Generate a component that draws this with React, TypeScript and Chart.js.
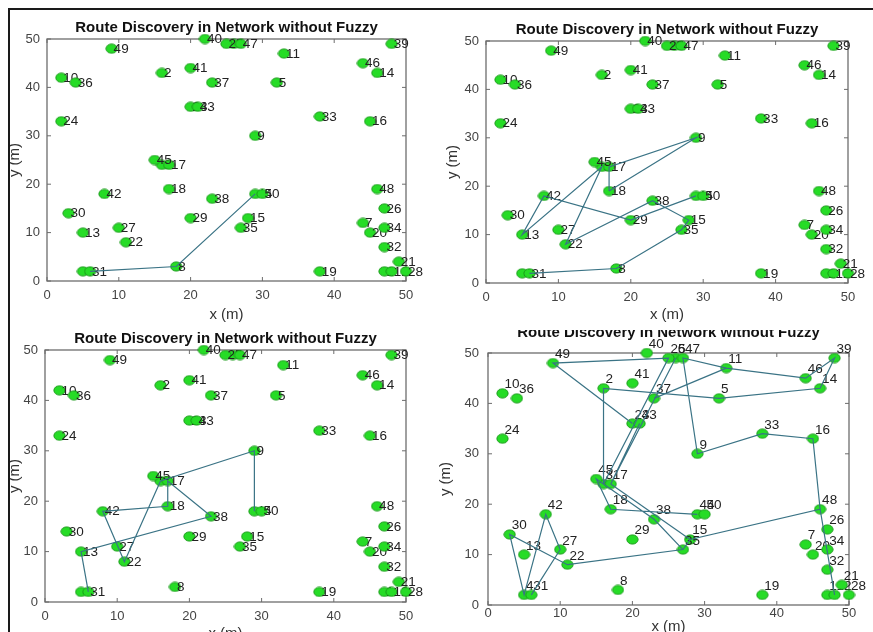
import React, { useEffect, useRef } from "react";
import { Chart, registerables } from "chart.js";

Chart.register(...registerables);

// ---- data (nodes are plotted in id order) ----
const nodeIds = [1, 2, 3, 4, 5, 6, 7, 8, 9, 10, 11, 12, 13, 14, 15, 16, 17, 18, 19, 20, 21, 22, 23, 24, 25, 26, 27, 28, 29, 30, 31, 32, 33, 34, 35, 36, 37, 38, 39, 40, 41, 42, 43, 44, 45, 46, 47, 48, 49, 50];
const nodeX = [47, 16, 16, 5, 32, 26, 44, 18, 29, 2, 33, 48, 5, 46, 28, 45, 17, 17, 38, 45, 49, 11, 20, 2, 25, 47, 10, 50, 20, 3, 6, 47, 38, 47, 27, 4, 23, 23, 48, 22, 20, 8, 21, 29, 15, 44, 27, 46, 9, 30];
const nodeY = [2, 43, 24, 2, 41, 49, 12, 3, 30, 42, 47, 2, 10, 43, 13, 33, 24, 19, 2, 10, 4, 8, 36, 33, 49, 15, 11, 2, 13, 14, 2, 7, 34, 11, 11, 41, 41, 17, 49, 50, 44, 18, 36, 18, 25, 45, 49, 19, 48, 18];

const axisTicks = [0, 10, 20, 30, 40, 50];
const chartTitle = "Route Discovery in Network without Fuzzy";
const xAxisTitle = "x (m)";
const yAxisTitle = "y (m)";

const routesPanel1 = [[31, 8, 44]];
const routesPanel2 = [
  [31, 8, 35, 15, 38, 22, 3, 13, 42, 29, 44],
  [18, 17, 9, 18],
];
const routesPanel3 = [[31, 13, 38, 17, 18, 42, 22, 3, 9, 44]];
const routesPanel4 = [
  [31, 27, 42, 4, 30, 22, 35, 15, 48, 12],
  [48, 16, 33, 9, 47, 11, 46, 39, 14, 5, 2, 3],
  [23, 49, 25, 3],
  [6, 17, 43],
  [11, 37],
  [44, 18, 45, 38, 35],
  [17, 15],
];

// ---- layout ----
type PanelCfg = {
  rect: { x: number; y: number; w: number; h: number };
  area: { L: number; T: number; R: number; B: number };
  routes: number[][];
  labelMode: "right" | "above";
  titleBase: number;
  xTitleY: number;
  yTitleX: number;
  xTickPad: number;
  yTickPad: number;
};

const panels: PanelCfg[] = [
  {
    rect: { x: 10, y: 10, w: 426, h: 320 },
    area: { L: 47, T: 39, R: 406, B: 281 },
    routes: routesPanel1,
    labelMode: "right",
    titleBase: 32,
    xTitleY: 315,
    yTitleX: 15,
    xTickPad: 7,
    yTickPad: 7,
  },
  {
    rect: { x: 436, y: 10, w: 437, h: 320 },
    area: { L: 486, T: 41, R: 848, B: 283 },
    routes: routesPanel2,
    labelMode: "right",
    titleBase: 34,
    xTitleY: 315,
    yTitleX: 453,
    xTickPad: 7,
    yTickPad: 7,
  },
  {
    rect: { x: 10, y: 320, w: 426, h: 312 },
    area: { L: 45, T: 350, R: 406, B: 602 },
    routes: routesPanel3,
    labelMode: "right",
    titleBase: 343,
    xTitleY: 634,
    yTitleX: 15,
    xTickPad: 7,
    yTickPad: 7,
  },
  {
    rect: { x: 436, y: 330, w: 437, h: 302 },
    area: { L: 488, T: 353, R: 849, B: 605 },
    routes: routesPanel4,
    labelMode: "above",
    titleBase: 337,
    xTitleY: 627,
    yTitleX: 446,
    xTickPad: 1,
    yTickPad: 9,
  },
];

const FONT = "'Liberation Sans', Arial, sans-serif";
const Y_AXIS_W = 40;
const X_AXIS_H = 20;
const BIG_AREA = { left: -10000, top: -10000, right: 10000, bottom: 10000 };

function makeMarker(): HTMLCanvasElement {
  const c = document.createElement("canvas");
  c.width = 13;
  c.height = 11;
  const g = c.getContext("2d")!;
  g.beginPath();
  g.ellipse(6.5, 5.5, 5.6, 4.6, 0, 0, Math.PI * 2);
  g.fillStyle = "#26dc26";
  g.fill();
  g.lineWidth = 1;
  g.strokeStyle = "#1a9a1a";
  g.stroke();
  return c;
}

function nodeIndex(id: number) {
  return nodeIds.indexOf(id);
}

function PanelChart({ cfg }: { cfg: PanelCfg }) {
  const ref = useRef<HTMLCanvasElement | null>(null);

  useEffect(() => {
    const canvas = ref.current;
    if (!canvas) return;
    const { rect, area } = cfg;
    const marker = makeMarker();

    const padLeft = area.L - rect.x - Y_AXIS_W;
    const padTop = area.T - rect.y;
    const padRight = rect.x + rect.w - area.R;
    const padBottom = rect.y + rect.h - area.B - X_AXIS_H;

    const routeDatasets = cfg.routes.map((path) => ({
      data: path.map((id) => {
        const i = nodeIndex(id);
        return { x: nodeX[i], y: nodeY[i] };
      }),
      showLine: true,
      borderColor: "#3a7385",
      borderWidth: 1.2,
      pointRadius: 0,
      pointHoverRadius: 0,
      fill: false,
      tension: 0,
      clip: false as any,
    }));

    const pointDataset = {
      data: nodeIds.map((_, i) => ({ x: nodeX[i], y: nodeY[i] })),
      pointStyle: marker as any,
      pointRadius: 6,
      showLine: false,
      clip: false as any,
    };

    const panelPlugin = {
      id: "panelDecor",
      beforeDatasetsDraw(chart: any) {
        const ctx = chart.ctx;
        const ca = chart.chartArea;
        const xs = chart.scales.x;
        const ys = chart.scales.y;
        ctx.save();
        ctx.strokeStyle = "#6d6d6d";
        ctx.lineWidth = 1.3;
        ctx.strokeRect(ca.left, ca.top, ca.right - ca.left, ca.bottom - ca.top);
        ctx.lineWidth = 1;
        ctx.beginPath();
        axisTicks.forEach((v) => {
          const px = xs.getPixelForValue(v);
          ctx.moveTo(px, ca.bottom);
          ctx.lineTo(px, ca.bottom - 4);
          ctx.moveTo(px, ca.top);
          ctx.lineTo(px, ca.top + 4);
          const py = ys.getPixelForValue(v);
          ctx.moveTo(ca.left, py);
          ctx.lineTo(ca.left + 4, py);
          ctx.moveTo(ca.right, py);
          ctx.lineTo(ca.right - 4, py);
        });
        ctx.stroke();
        ctx.restore();
      },
      // skip default drawing; everything is drawn in sequence below
      beforeDatasetDraw() {
        return false;
      },
      afterDatasetsDraw(chart: any) {
        const ctx = chart.ctx;
        const n = chart.data.datasets.length;
        const meta = chart.getDatasetMeta(n - 1);
        // markers and their labels, one node after another
        meta.data.forEach((el: any, i: number) => {
          el.draw(ctx, BIG_AREA);
          const label = String(nodeIds[i]);
          ctx.save();
          ctx.font = `13.5px ${FONT}`;
          ctx.fillStyle = "#222";
          ctx.textAlign = "left";
          if (cfg.labelMode === "right") {
            ctx.textBaseline = "middle";
            ctx.fillText(label, el.x + 2, el.y + 0.5);
          } else {
            ctx.textBaseline = "bottom";
            ctx.fillText(label, el.x + 2, el.y - 2);
          }
          ctx.restore();
        });
        // route lines on top
        for (let d = 0; d < n - 1; d++) {
          const lm = chart.getDatasetMeta(d);
          if (lm.dataset) {
            ctx.save();
            lm.dataset.draw(ctx, chart.chartArea);
            ctx.restore();
          }
        }
      },
      afterDraw(chart: any) {
        const ctx = chart.ctx;
        const ca = chart.chartArea;
        const cx = (ca.left + ca.right) / 2;
        const cy = (ca.top + ca.bottom) / 2;
        ctx.save();
        ctx.fillStyle = "#111";
        ctx.font = `bold 15px ${FONT}`;
        ctx.textAlign = "center";
        ctx.textBaseline = "alphabetic";
        ctx.fillText(chartTitle, cx, cfg.titleBase - rect.y);

        ctx.fillStyle = "#333";
        ctx.font = `15px ${FONT}`;
        ctx.textBaseline = "middle";
        ctx.fillText(xAxisTitle, cx, cfg.xTitleY - rect.y);

        ctx.translate(cfg.yTitleX - rect.x, cy);
        ctx.rotate(-Math.PI / 2);
        ctx.fillText(yAxisTitle, 0, 0);
        ctx.restore();
      },
    };

    const tickFont = { family: FONT, size: 13 };

    const chart = new Chart(canvas, {
      type: "scatter",
      data: { datasets: [...routeDatasets, pointDataset] as any },
      options: {
        responsive: false,
        animation: false,
        devicePixelRatio: 1,
        events: [],
        layout: {
          autoPadding: false,
          padding: { left: padLeft, top: padTop, right: padRight, bottom: padBottom },
        } as any,
        plugins: {
          legend: { display: false },
          tooltip: { enabled: false },
          title: { display: false },
        },
        scales: {
          x: {
            type: "linear",
            min: 0,
            max: 50,
            afterBuildTicks: (s: any) => {
              s.ticks = axisTicks.map((v) => ({ value: v }));
            },
            afterFit: (s: any) => {
              s.height = X_AXIS_H;
            },
            ticks: { padding: cfg.xTickPad, color: "#444", font: tickFont, maxRotation: 0 },
            grid: { display: false, drawTicks: false },
            border: { display: false },
          },
          y: {
            type: "linear",
            min: 0,
            max: 50,
            afterBuildTicks: (s: any) => {
              s.ticks = axisTicks.map((v) => ({ value: v }));
            },
            afterFit: (s: any) => {
              s.width = Y_AXIS_W;
            },
            ticks: { padding: cfg.yTickPad, color: "#444", font: tickFont },
            grid: { display: false, drawTicks: false },
            border: { display: false },
          },
        },
      } as any,
      plugins: [panelPlugin],
    });

    return () => {
      chart.destroy();
    };
  }, [cfg]);

  const { rect } = cfg;
  return (
    <canvas
      ref={ref}
      width={rect.w}
      height={rect.h}
      style={{ position: "absolute", left: rect.x, top: rect.y, width: rect.w, height: rect.h }}
    />
  );
}

export default function App() {
  return (
    <div
      style={{
        position: "absolute",
        left: 0,
        top: 0,
        width: 873,
        height: 632,
        overflow: "hidden",
        background: "#fff",
      }}
    >
      <div
        style={{
          position: "absolute",
          left: 8,
          top: 8,
          width: 880,
          height: 640,
          borderTop: "2px solid #1a1a1a",
          borderLeft: "2px solid #1a1a1a",
          boxSizing: "border-box",
        }}
      />
      {panels.map((p, i) => (
        <PanelChart key={i} cfg={p} />
      ))}
    </div>
  );
}
